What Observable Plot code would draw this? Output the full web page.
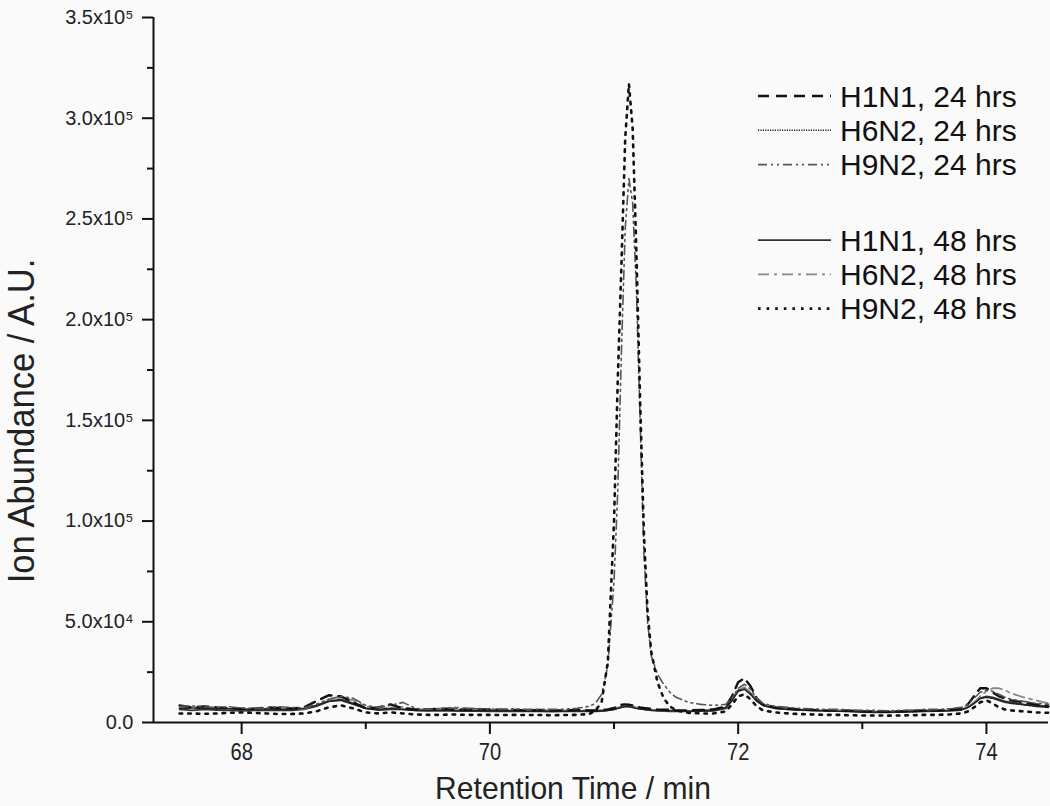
<!DOCTYPE html>
<html>
<head>
<meta charset="utf-8">
<script src="https://cdn.jsdelivr.net/npm/d3@7"></script>
<script src="https://cdn.jsdelivr.net/npm/@observablehq/plot@0.6"></script>
<style>
  html, body { margin: 0; padding: 0; background: #fafafa; }
  #wrap { position: relative; width: 1050px; height: 806px; overflow: hidden; }
  #legend { position: absolute; left: 0; top: 0; }
</style>
</head>
<body>
<div id="wrap"></div>
<script>
// Retention time grid (min)
const times = [
  67.5, 67.6, 67.7, 67.8, 67.9, 68.0, 68.1, 68.2, 68.3, 68.4, 68.5, 68.6, 68.7, 68.8, 68.9, 69.0, 69.1, 69.2, 69.3, 69.4,
  69.5, 69.6, 69.7, 69.8, 69.9, 70.0, 70.1, 70.2, 70.3, 70.4, 70.5, 70.6, 70.7, 70.8,
  70.85, 70.9, 70.95, 71.0,
  71.03, 71.06, 71.09, 71.12, 71.15, 71.18, 71.21, 71.24, 71.27, 71.3,
  71.35, 71.4, 71.45, 71.5,
  71.6, 71.7, 71.8, 71.9,
  71.95, 72.0, 72.05, 72.1, 72.15, 72.2,
  72.3, 72.4, 72.5, 72.6, 72.7, 72.8, 72.9, 73.0, 73.1, 73.2, 73.3, 73.4, 73.5, 73.6, 73.7, 73.8,
  73.85, 73.9, 73.95, 74.0, 74.05, 74.1, 74.15, 74.2,
  74.3, 74.4, 74.5
];

// Ion abundance, in thousands (x10^3)
const h1n1_24 = [
  8.5, 7.5, 8.0, 7.5, 7.2, 6.8, 6.8, 7.5, 7.2, 7.0, 7.5, 10.5, 13.5, 13.0, 10.0, 7.0, 7.5, 9.0, 7.0, 6.5,
  6.5, 6.8, 6.5, 6.3, 6.5, 6.5, 6.3, 6.2, 6.0, 6.2, 6.0, 6.0, 6.2, 6.0,
  6.0, 6.2, 6.5, 7.2,
  8.0, 8.8, 9.0, 8.8, 8.5, 8.0, 7.5, 7.2, 7.0, 6.8,
  6.5, 6.3, 6.3, 6.0,
  6.0, 6.2, 6.5, 8.0,
  13.0, 20.0, 22.0, 18.0, 12.0, 9.0,
  7.5, 7.0, 6.5, 6.2, 6.0, 6.0, 5.8, 5.5, 5.5, 5.3, 5.5, 5.8, 6.0, 6.0, 6.3, 7.0,
  9.0, 13.0, 17.0, 17.0, 15.0, 13.0, 12.0, 11.0,
  10.0, 9.0, 8.0
];
const h6n2_24 = [
  7.0, 7.2, 7.0, 6.8, 6.8, 6.5, 6.6, 6.8, 6.5, 6.5, 7.0, 8.5, 10.5, 11.0, 9.0, 7.0, 6.5, 7.0, 6.5, 6.0,
  6.0, 6.2, 6.0, 6.0, 6.0, 5.8, 5.8, 5.8, 5.6, 5.8, 5.6, 5.6, 5.8, 5.6,
  5.6, 5.8, 6.0, 6.5,
  7.0, 7.5, 7.8, 7.8, 7.5, 7.0, 6.8, 6.5, 6.3, 6.2,
  6.0, 6.0, 5.8, 5.8,
  5.6, 5.8, 6.0, 7.5,
  11.0, 15.5, 16.5, 14.0, 10.5, 8.5,
  7.0, 6.5, 6.2, 6.0, 5.8, 5.6, 5.5, 5.3, 5.2, 5.2, 5.3, 5.5, 5.6, 5.8, 6.0, 6.5,
  7.5, 9.5, 12.0, 12.5, 12.0, 11.0, 10.0, 9.5,
  8.8, 8.0, 7.5
];
const h9n2_24 = [
  8.0, 8.2, 7.8, 7.5, 7.8, 7.2, 7.0, 7.2, 7.8, 7.5, 7.2, 9.0, 11.5, 13.0, 12.0, 8.5, 7.5, 8.5, 10.0, 7.0,
  6.5, 7.0, 7.2, 6.8, 6.8, 6.6, 6.5, 6.8, 6.5, 6.5, 6.5, 6.6, 7.0, 8.0,
  9.5, 14.0, 28.0, 70.0,
  115.0, 185.0, 245.0, 270.0, 258.0, 215.0, 150.0, 85.0, 50.0, 33.0,
  24.0, 19.0, 15.0, 12.5,
  10.0, 9.0, 8.5, 9.0,
  12.0, 17.0, 19.0, 16.5, 12.0, 9.5,
  8.0, 7.5, 7.0, 6.8, 6.5, 6.5, 6.3, 6.0, 6.0, 5.8, 6.0, 6.2, 6.5, 6.5, 6.8, 7.5,
  9.0, 12.0, 15.0, 16.0, 15.5, 14.0, 12.5, 11.5,
  10.5, 9.5, 9.0
];
const h1n1_48 = [
  6.5, 6.0, 6.5, 6.2, 6.0, 5.8, 6.0, 6.2, 6.0, 6.0, 6.5, 8.0, 10.5, 11.5, 9.5, 7.0, 6.2, 6.5, 6.5, 6.0,
  5.8, 5.8, 5.8, 5.6, 5.6, 5.5, 5.5, 5.6, 5.5, 5.5, 5.4, 5.5, 5.5, 5.5,
  5.5, 5.6, 6.0, 6.5,
  7.2, 7.8, 8.0, 8.0, 7.6, 7.2, 6.8, 6.5, 6.3, 6.0,
  5.8, 5.6, 5.5, 5.5,
  5.5, 5.6, 5.8, 7.0,
  11.0, 16.0, 17.0, 14.5, 11.0, 8.5,
  7.0, 6.5, 6.2, 6.0, 5.8, 5.6, 5.5, 5.2, 5.0, 5.0, 5.2, 5.3, 5.5, 5.6, 5.8, 6.2,
  7.5, 9.5, 12.0, 13.0, 12.5, 11.5, 10.5, 10.0,
  9.0, 8.5, 8.0
];
const h6n2_48 = [
  7.5, 7.0, 7.2, 7.0, 6.8, 6.5, 6.8, 7.0, 6.8, 6.6, 6.8, 8.5, 11.0, 12.5, 11.0, 8.0, 6.8, 7.5, 7.8, 6.5,
  6.5, 7.0, 7.5, 7.2, 7.0, 6.5, 6.2, 6.3, 6.0, 6.2, 6.0, 6.0, 6.0, 6.0,
  6.0, 6.2, 6.5, 7.0,
  7.5, 8.0, 8.2, 8.0, 7.8, 7.5, 7.0, 6.8, 6.5, 6.3,
  6.0, 6.0, 6.0, 5.8,
  5.8, 6.0, 6.5, 7.5,
  11.5, 16.0, 17.5, 15.0, 11.5, 9.0,
  7.5, 7.0, 6.5, 6.2, 6.0, 6.0, 5.8, 5.5, 5.5, 5.5, 5.6, 5.8, 6.0, 6.2, 6.5, 7.0,
  8.0, 10.0, 13.0, 15.5, 17.0, 17.0, 16.0, 14.5,
  12.5, 11.0, 9.5
];
const h9n2_48 = [
  4.5, 4.5, 4.3, 4.5, 4.8, 5.0, 4.8, 4.5, 4.2, 4.2, 4.5, 5.5, 7.5, 8.5, 7.0, 5.0, 4.5, 5.0, 4.5, 4.0,
  3.8, 3.8, 4.0, 3.8, 3.8, 3.8, 3.7, 3.8, 3.7, 3.7, 3.6, 3.7, 3.8, 4.2,
  6.0, 10.0, 30.0, 100.0,
  170.0, 228.0, 290.0, 317.0, 295.0, 234.0, 160.0, 95.0, 55.0, 35.0,
  20.0, 12.0, 8.0, 6.0,
  4.8, 4.5, 4.5, 5.5,
  9.0, 13.0, 14.0, 11.5, 8.0, 6.0,
  5.0, 4.5, 4.2, 4.0, 3.8, 3.8, 3.6, 3.5, 3.5, 3.4, 3.5, 3.6, 3.8, 3.8, 4.0, 4.5,
  5.5, 7.5, 10.0, 11.0, 9.5, 7.5, 6.5, 6.0,
  5.5, 5.0, 4.8
];

const seriesNames = ["H1N1, 24 hrs", "H6N2, 24 hrs", "H9N2, 24 hrs", "H1N1, 48 hrs", "H6N2, 48 hrs", "H9N2, 48 hrs"];
const seriesValues = [h1n1_24, h6n2_24, h9n2_24, h1n1_48, h6n2_48, h9n2_48];

const xTicks = [68, 70, 72, 74];
const xMinorTicks = [69, 71, 73];
const yTicks = [0, 50000, 100000, 150000, 200000, 250000, 300000, 350000];
const yTickLabels = ["0.0", "5.0x10\u2074", "1.0x10\u2075", "1.5x10\u2075", "2.0x10\u2075", "2.5x10\u2075", "3.0x10\u2075", "3.5x10\u2075"];
const yMinorTicks = [25000, 75000, 125000, 175000, 225000, 275000, 325000];

// Line styles (per series)
const lineStyles = [
  {stroke: "#111", strokeWidth: 2.4, strokeDasharray: "11,7"},
  {stroke: "#222", strokeWidth: 1.6, strokeDasharray: "1.2,1.2"},
  {stroke: "#555", strokeWidth: 1.6, strokeDasharray: "9,4,2,4,2,4"},
  {stroke: "#333", strokeWidth: 1.8, strokeDasharray: null},
  {stroke: "#888", strokeWidth: 1.8, strokeDasharray: "11,5,3,5"},
  {stroke: "#111", strokeWidth: 2.6, strokeDasharray: "2.6,6"}
];
const drawOrder = [3, 4, 1, 0, 2, 5];

const rows = seriesNames.flatMap((name, i) => times.map((t, j) => ({t, v: seriesValues[i][j] * 1000, name})));

const xDomain = [67.29, 74.5];
const font = "'Liberation Sans', Arial, sans-serif";

const chart = Plot.plot({
  width: 1050,
  height: 806,
  marginLeft: 153,
  marginRight: 2,
  marginTop: 17,
  marginBottom: 84,
  x: {domain: xDomain},
  y: {domain: [0, 350000]},
  style: {fontFamily: font, fontSize: "20px", background: "transparent", color: "#111", overflow: "visible"},
  marks: [
    ...drawOrder.map(i => Plot.line(rows.filter(d => d.name === seriesNames[i]), {
      x: "t", y: "v", ...lineStyles[i], strokeLinejoin: "round", curve: "linear"
    })),
    Plot.ruleY([0], {stroke: "#111", strokeWidth: 2}),
    Plot.ruleX([xDomain[0]], {stroke: "#111", strokeWidth: 2}),
    Plot.axisY(yTicks, {tickSize: 11, tickPadding: 9, strokeWidth: 2, stroke: "#111", fill: "#222",
      tickFormat: d => yTickLabels[yTicks.indexOf(d)], fontSize: 20, label: null}),
    Plot.axisY(yMinorTicks, {tickSize: 6, strokeWidth: 2, stroke: "#111", tickFormat: () => "", label: null}),
    Plot.axisX(xTicks, {tickSize: 12, tickPadding: 8, strokeWidth: 2, stroke: "#111", fill: "#222",
      fontSize: 24, label: null, tickFormat: d => String(d), className: "xticklabels"}),
    Plot.axisX(xMinorTicks, {tickSize: 7, strokeWidth: 2, stroke: "#111", tickFormat: () => "", label: null}),
    Plot.text(["Retention Time / min"], {frameAnchor: "bottom", dx: -28, dy: 76, fontSize: 32, fill: "#222",
      textAnchor: "middle", className: "xtitle"}),
    Plot.text(["Ion Abundance / A.U."], {frameAnchor: "left", dx: -131, dy: 51, rotate: -90, fontSize: 36, fill: "#222",
      textAnchor: "middle", className: "ytitle"})
  ]
});

const wrap = document.getElementById("wrap");
wrap.appendChild(chart);

// Condense (narrow) some texts along their own direction, around their anchor
function condense(sel, factor) {
  sel.each(function() {
    const t = this.getAttribute("transform");
    if (t && /translate/.test(t)) {
      this.setAttribute("transform", t + ` scale(${factor},1)`);
    } else {
      const len = this.getComputedTextLength();
      if (len > 0) {
        this.setAttribute("textLength", (len * factor).toFixed(1));
        this.setAttribute("lengthAdjust", "spacingAndGlyphs");
      }
    }
  });
}
condense(d3.select(chart).selectAll(".xticklabels text"), 0.84);
condense(d3.select(chart).selectAll(".xtitle text"), 0.94);
condense(d3.select(chart).selectAll(".ytitle text"), 0.96);

// Legend overlay
const legendRows = [0, 1, 2, 4.2, 5.2, 6.2];
const leg = d3.select(wrap).append("svg")
  .attr("id", "legend").attr("width", 1050).attr("height", 806)
  .style("font-family", font);
const g = leg.selectAll("g").data(seriesNames).join("g")
  .attr("transform", (d, i) => `translate(758, ${96 + legendRows[i] * 34.3})`);
g.append("line").attr("x1", 0).attr("x2", 73).attr("y1", 0).attr("y2", 0)
  .attr("stroke", (d, i) => lineStyles[i].stroke)
  .attr("stroke-width", (d, i) => lineStyles[i].strokeWidth)
  .attr("stroke-dasharray", (d, i) => lineStyles[i].strokeDasharray);
g.append("text").attr("x", 82).attr("y", 0).attr("dy", "0.36em")
  .attr("font-size", 30).attr("fill", "#111").text(d => d);
</script>
</body>
</html>
